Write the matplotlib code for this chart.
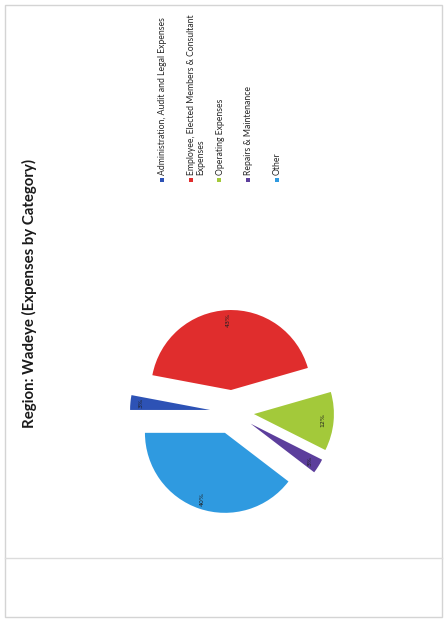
import matplotlib.pyplot as plt
from matplotlib.patches import Rectangle

# chart data (scanned page, chart is rotated 90 degrees)
title = "Region: Wadeye (Expenses by Category)"
categories = [
    "Administration, Audit and Legal Expenses",
    "Employee, Elected Members & Consultant\nExpenses",
    "Operating Expenses",
    "Repairs & Maintenance",
    "Other",
]
shares = [3, 43, 12, 3, 40]
colors = ["#2d52b5", "#e02d2d", "#a3c93a", "#5c3e9c", "#2f9ae0"]

W, H = 446, 622
fig = plt.figure(figsize=(W / 100, H / 100), dpi=100)
ax = fig.add_axes([0, 0, 1, 1])
ax.set_xlim(0, W)
ax.set_ylim(0, H)
ax.set_aspect("equal")
ax.axis("off")

# page frame
ax.add_patch(Rectangle((5, H - 617), 437, 612, fill=False, ec="#d4d4d4", lw=1))
ax.plot([5, 442], [H - 558, H - 558], color="#dcdcdc", lw=1)

# explode is in data units here (pixels)
wedges, texts, autotexts = ax.pie(
    shares, colors=colors, center=(232, H - 412), radius=80,
    startangle=180, counterclock=False, explode=[22] * len(shares),
    autopct="%1.0f%%", pctdistance=0.87,
    textprops={"rotation": 90, "fontsize": 4.5, "color": "#222222"},
    wedgeprops={"linewidth": 0},
)
ax.set_xlim(0, W)
ax.set_ylim(0, H)

ax.text(29, H - 294, title, rotation=90, ha="center", va="center",
        fontsize=10.8, fontweight="bold", family="Lato", color="#1a1a1a")

# legend, rotated like the rest of the page
for i, (name, col) in enumerate(zip(categories, colors)):
    mx = 162 + i * 28.7
    ax.scatter([mx], [H - 180], marker="s", s=10, color=col, lw=0)
    ax.text(mx - 3.8, H - 175, name, rotation=90, ha="left", va="bottom",
            fontsize=6.2, family="Lato", color="#262626", linespacing=1.1)

fig.savefig("out.png", dpi=100)
